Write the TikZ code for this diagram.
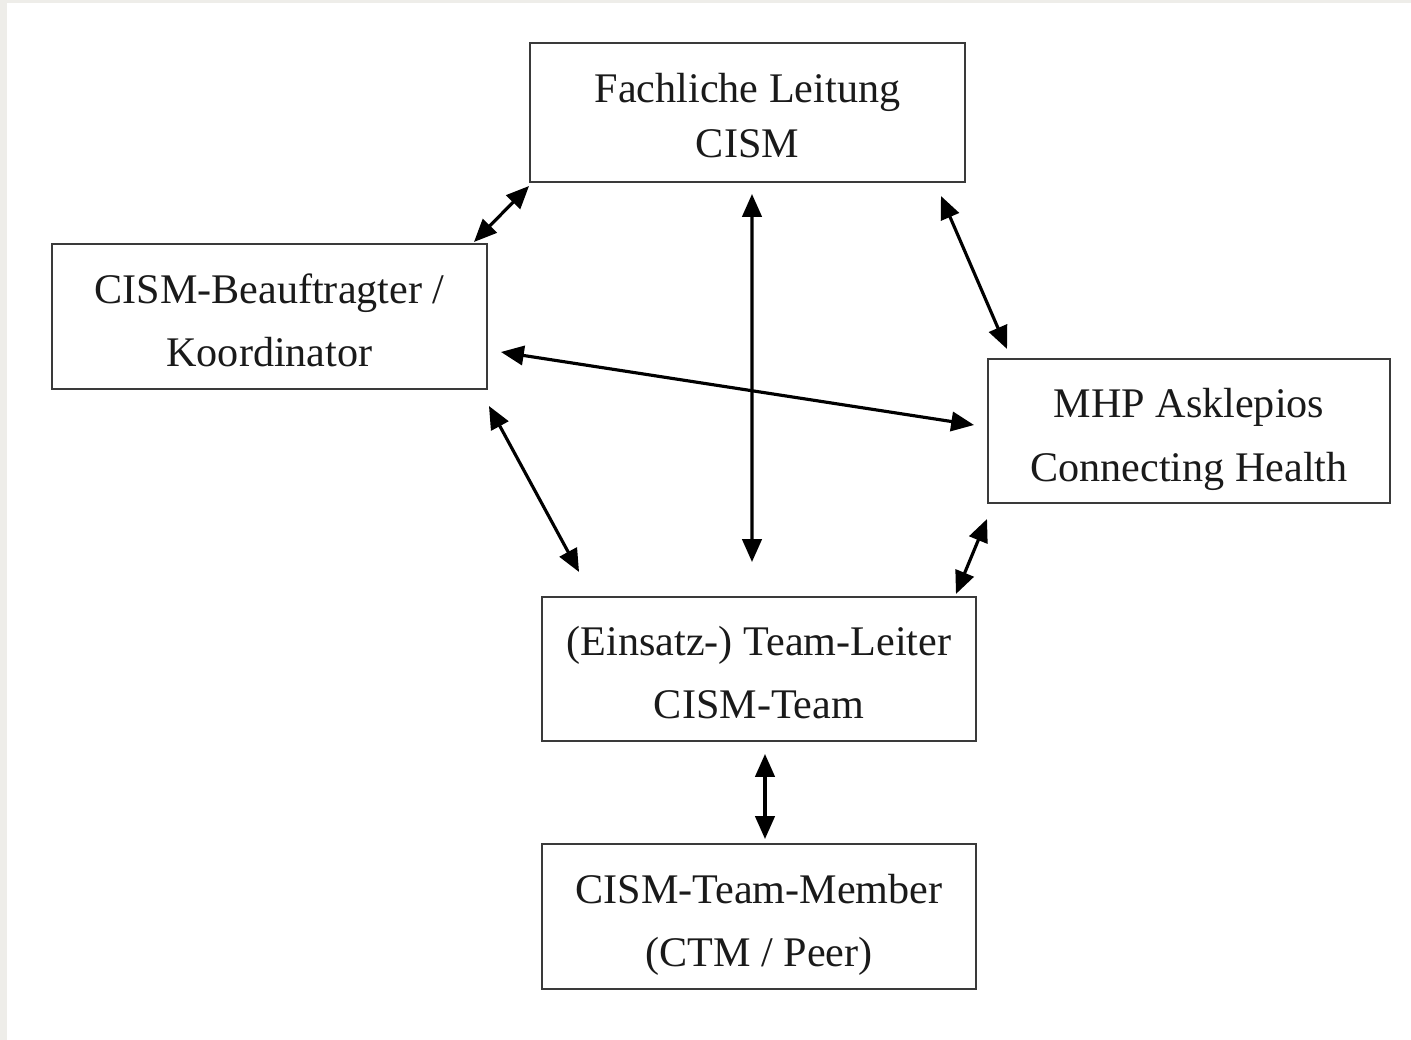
\documentclass[tikz,border=0pt]{standalone}
\usepackage{fontspec}
\setmainfont{Liberation Serif}
\usetikzlibrary{calc,arrows.meta}
\definecolor{pagegrey}{HTML}{EEEDE9}
\definecolor{boxline}{HTML}{3A3A3A}
\definecolor{txt}{HTML}{1A1A1A}
\begin{document}
\begin{tikzpicture}[x=0.02cm,y=-0.02cm,
  orgbox/.style={draw=boxline,line width=1.15pt,fill=white,inner sep=0pt},
  orgtext/.style={align=center,text=txt,font=\fontsize{24}{36}\selectfont,inner sep=0pt},
  link/.style={line width=1.8pt,{Triangle[length=13pt,width=11pt]}-{Triangle[length=13pt,width=11pt]}}]
\fill[pagegrey] (0,0) rectangle (1411,1040);
\fill[white] (7,3) rectangle (1411,1040);
\useasboundingbox (0,0) rectangle (1411,1040);

\node[orgbox,minimum width=8.7cm,minimum height=2.78cm] (fach) at (747.5,112.5) {};
\node[orgbox,minimum width=8.7cm,minimum height=2.9cm] (beauf) at (269.5,316.5) {};
\node[orgbox,minimum width=8.04cm,minimum height=2.88cm] (mhp) at (1189,431) {};
\node[orgbox,minimum width=8.68cm,minimum height=2.88cm] (lead) at (759,669) {};
\node[orgbox,minimum width=8.68cm,minimum height=2.9cm] (mem) at (759,916.5) {};

\node[orgtext,font=\fontsize{24}{31}\selectfont] (fachT) at ($(fach.center)+(0,3)$) {Fachliche Leitung\\CISM};
\node[orgtext] (beaufT) at ($(beauf.center)+(0,3.5)$) {CISM-Beauftragter /\\Koordinator};
\node[orgtext] (mhpT) at ($(mhp.center)+(0,8.5)$) {MHP Asklepios\\Connecting Health};
\node[orgtext] (leadT) at ($(lead.center)+(0,3.5)$) {(Einsatz-) Team-Leiter\\CISM-Team};
\node[orgtext] (memT) at ($(mem.center)+(0,8)$) {CISM-Team-Member\\(CTM / Peer)};

\draw[link] ($(fach.south west)+(0,3)$) -- ($(beauf.north east)+(-14,-1)$);
\draw[link] ($(fach.south)+(4.5,11)$) -- ($(lead.north)+(-7,-34)$);
\draw[link] ($(fach.south east)+(-25,13)$) -- ($(mhp.north west)+(20,-9)$);
\draw[link] ($(beauf.east)+(13,35.5)$) -- ($(mhp.west)+(-13,-6)$);
\draw[link] ($(beauf.south east)+(1,16)$) -- ($(lead.north west)+(38,-24)$);
\draw[link] ($(mhp.south west)+(0,15)$) -- ($(lead.north east)+(-21,-2)$);
\draw[link] ($(lead.south)+(6,12)$) -- ($(mem.north)+(6,-4)$);
\end{tikzpicture}
\end{document}
